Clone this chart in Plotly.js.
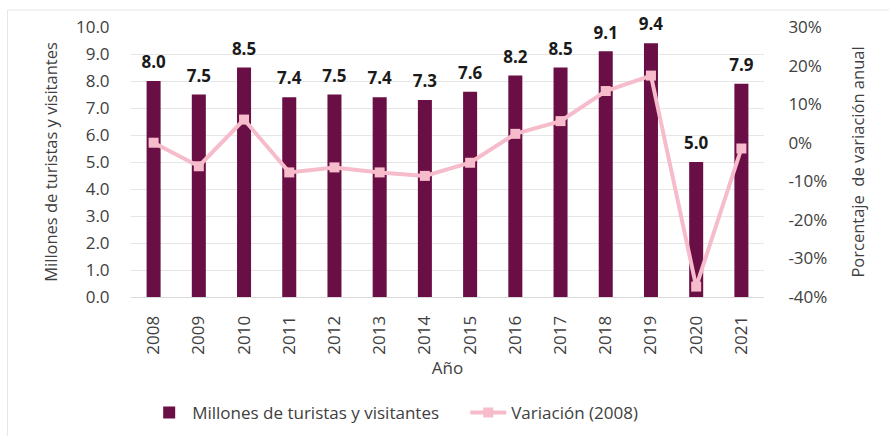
<!DOCTYPE html>
<html>
<head>
<meta charset="utf-8">
<script src="https://cdn.plot.ly/plotly-3.0.1.min.js"></script>
<style>html,body{margin:0;padding:0;background:#fff;}#chart{width:889px;height:436px;}</style>
</head>
<body>
<div id="chart"></div>
<script>
const years = ['2008','2009','2010','2011','2012','2013','2014','2015','2016','2017','2018','2019','2020','2021'];
const visitors = [8.0, 7.5, 8.5, 7.4, 7.5, 7.4, 7.3, 7.6, 8.2, 8.5, 9.1, 9.4, 5.0, 7.9];
const variation = [0, -6.1, 6.0, -7.7, -6.4, -7.7, -8.6, -5.2, 2.3, 5.6, 13.4, 17.4, -37.3, -1.5];
const leftTicks = [0, 1, 2, 3, 4, 5, 6, 7, 8, 9, 10];
const leftTickText = ['0.0','1.0','2.0','3.0','4.0','5.0','6.0','7.0','8.0','9.0','10.0'];
const rightTicks = [-40, -30, -20, -10, 0, 10, 20, 30];
const rightTickText = ['-40%','-30%','-20%','-10%','0%','10%','20%','30%'];

const barColor = '#6a0f45';
const lineColor = '#f6bccb';
const font = '"Open Sans", "Noto Sans", sans-serif';
const txt = '#404040';

const traces = [
  {
    type: 'bar', x: years, y: visitors, name: 'Millones de turistas y visitantes',
    marker: {color: barColor}, yaxis: 'y', legend: 'legend'
  },
  {
    type: 'scatter', mode: 'lines+markers', x: years, y: variation, name: 'Variación (2008)',
    line: {color: lineColor, width: 4},
    marker: {symbol: 'square', size: 10, color: lineColor},
    yaxis: 'y2', cliponaxis: false, legend: 'legend2'
  },
  {
    type: 'scatter', mode: 'markers+text', x: years, y: visitors, yaxis: 'y',
    marker: {size: 12, color: 'rgba(0,0,0,0)'},
    text: visitors.map(v => v.toFixed(1)), textposition: 'top center',
    textfont: {family: font, size: 17, color: '#1a1a1a', weight: 700},
    showlegend: false, cliponaxis: false, hoverinfo: 'skip'
  }
];

const legendBase = {orientation: 'h', xanchor: 'left', yref: 'container', y: 0.053, yanchor: 'middle',
                    font: {size: 17, color: txt}, itemwidth: 36, bgcolor: 'rgba(0,0,0,0)'};

const layout = {
  width: 889, height: 436,
  margin: {l: 131, r: 125, t: 27, b: 139, autoexpand: false},
  paper_bgcolor: '#fff', plot_bgcolor: '#fff',
  font: {family: font, color: txt, size: 16},
  bargap: 0.69,
  showlegend: true,
  legend: Object.assign({}, legendBase, {x: 0.024}),
  legend2: Object.assign({}, legendBase, {x: 0.528}),
  xaxis: {
    type: 'category', range: [-0.5, 13.5], tickangle: -90, showgrid: false,
    showline: true, linecolor: '#d9d9d9',
    ticks: 'outside', ticklen: 11, tickcolor: 'rgba(0,0,0,0)', tickfont: {size: 17, color: txt},
    title: {text: 'Año', font: {size: 17, color: txt}, standoff: 8}
  },
  yaxis: {
    range: [0, 10], tickvals: leftTicks, ticktext: leftTickText, showgrid: true, gridcolor: '#e6e6e6',
    zeroline: false, ticks: 'outside', ticklen: 17, tickcolor: 'rgba(0,0,0,0)',
    tickfont: {size: 17, color: txt},
    title: {text: 'Millones de turistas y visitantes', font: {size: 16.5, color: txt}, standoff: 14}
  },
  yaxis2: {
    overlaying: 'y', side: 'right', range: [-40, 30], tickvals: rightTicks, ticktext: rightTickText,
    showgrid: false, zeroline: false, ticks: 'outside', ticklen: 20, tickcolor: 'rgba(0,0,0,0)',
    tickfont: {size: 17, color: txt},
    title: {text: 'Porcentaje  de variación anual', font: {size: 16.5, color: txt}, standoff: 26}
  },
  shapes: [
    {type: 'line', xref: 'paper', yref: 'paper', x0: -0.195, x1: 1.2, y0: 1.063, y1: 1.063,
     line: {color: '#e6e6e6', width: 1}},
    {type: 'line', xref: 'paper', yref: 'paper', x0: -0.195, x1: -0.195, y0: 1.063, y1: -0.52,
     line: {color: '#e6e6e6', width: 1}}
  ]
};

Plotly.newPlot('chart', traces, layout, {displayModeBar: false, staticPlot: true});
</script>
</body>
</html>
